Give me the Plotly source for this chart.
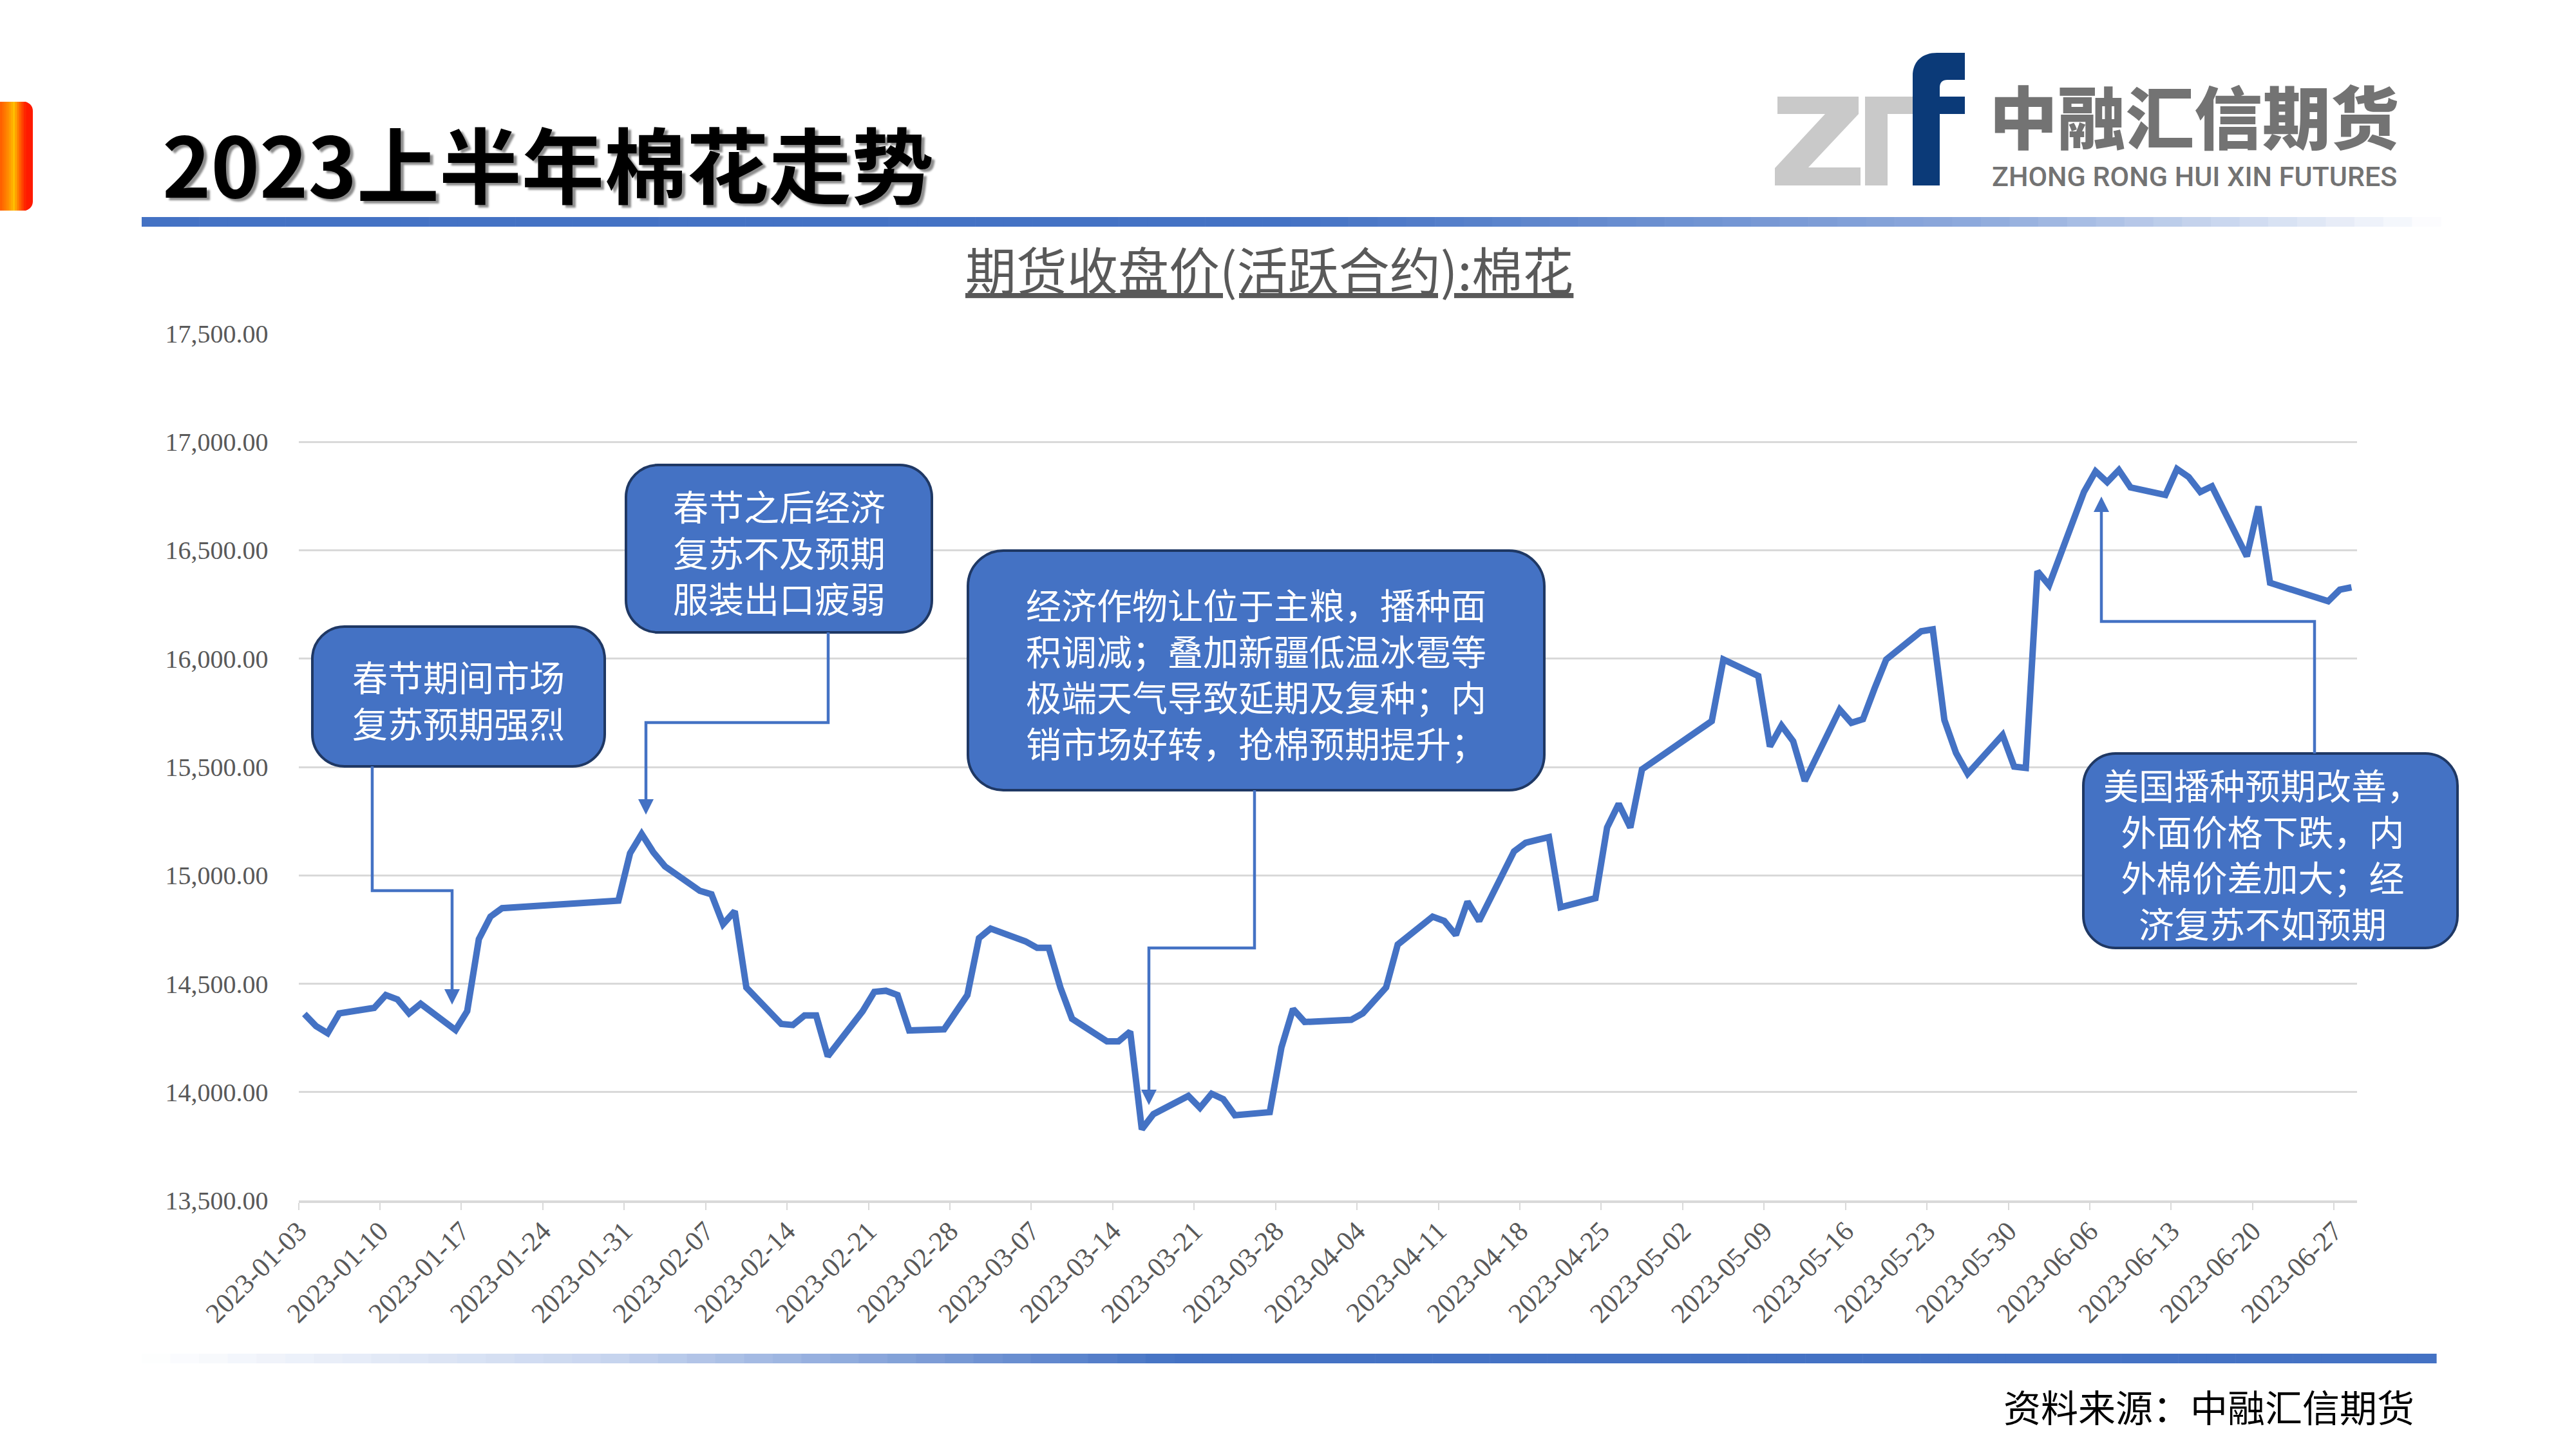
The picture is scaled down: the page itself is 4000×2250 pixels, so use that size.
import pandas as pd
import plotly.graph_objects as go

W, H = 4000, 2250

# Daily closing price of the most active cotton futures contract, H1 2023
trade_dates = [
    "2023-01-03", "2023-01-04", "2023-01-05", "2023-01-06", "2023-01-09", "2023-01-10",
    "2023-01-11", "2023-01-12", "2023-01-13", "2023-01-16", "2023-01-17", "2023-01-18",
    "2023-01-19", "2023-01-20", "2023-01-30", "2023-01-31", "2023-02-01", "2023-02-02",
    "2023-02-03", "2023-02-06", "2023-02-07", "2023-02-08", "2023-02-09", "2023-02-10",
    "2023-02-13", "2023-02-14", "2023-02-15", "2023-02-16", "2023-02-17", "2023-02-20",
    "2023-02-21", "2023-02-22", "2023-02-23", "2023-02-24", "2023-02-27", "2023-02-28",
    "2023-03-01", "2023-03-02", "2023-03-03", "2023-03-06", "2023-03-07", "2023-03-08",
    "2023-03-09", "2023-03-10", "2023-03-13", "2023-03-14", "2023-03-15", "2023-03-16",
    "2023-03-17", "2023-03-20", "2023-03-21", "2023-03-22", "2023-03-23", "2023-03-24",
    "2023-03-27", "2023-03-28", "2023-03-29", "2023-03-30", "2023-03-31", "2023-04-03",
    "2023-04-04", "2023-04-06", "2023-04-07", "2023-04-10", "2023-04-11", "2023-04-12",
    "2023-04-13", "2023-04-14", "2023-04-17", "2023-04-18", "2023-04-19", "2023-04-20",
    "2023-04-21", "2023-04-24", "2023-04-25", "2023-04-26", "2023-04-27", "2023-04-28",
    "2023-05-04", "2023-05-05", "2023-05-08", "2023-05-09", "2023-05-10", "2023-05-11",
    "2023-05-12", "2023-05-15", "2023-05-16", "2023-05-17", "2023-05-18", "2023-05-19",
    "2023-05-22", "2023-05-23", "2023-05-24", "2023-05-25", "2023-05-26", "2023-05-29",
    "2023-05-30", "2023-05-31", "2023-06-01", "2023-06-02", "2023-06-05", "2023-06-06",
    "2023-06-07", "2023-06-08", "2023-06-09", "2023-06-12", "2023-06-13", "2023-06-14",
    "2023-06-15", "2023-06-16", "2023-06-19", "2023-06-20", "2023-06-21", "2023-06-26",
    "2023-06-27", "2023-06-28",
]
close_prices = [
    14361, 14305, 14272, 14364, 14389, 14448,
    14428, 14364, 14408, 14287, 14374, 14706,
    14810, 14849, 14884, 15102, 15191, 15107,
    15042, 14929, 14913, 14775, 14835, 14483,
    14315, 14310, 14354, 14354, 14166, 14374,
    14463, 14468, 14448, 14285, 14290, 14369,
    14448, 14711, 14755, 14696, 14666, 14666,
    14483, 14339, 14235, 14235, 14280, 13829,
    13899, 13983, 13928, 13993, 13968, 13894,
    13908, 14206, 14384, 14324, 14326, 14334,
    14364, 14483, 14681, 14810, 14790, 14725,
    14879, 14790, 15111, 15151, 15164, 15177,
    14853, 14895, 15221, 15330, 15221, 15489,
    15712, 15996, 15920, 15595, 15691, 15619,
    15436, 15765, 15704, 15721, 15863, 15996,
    16126, 16135, 15717, 15565, 15469, 15648,
    15502, 15496, 16403, 16339, 16769, 16864,
    16814, 16870, 16790, 16755, 16875, 16838,
    16769, 16795, 16472, 16702, 16350, 16265,
    16318, 16329,
]

x_tick_labels = [
    "2023-01-03", "2023-01-10", "2023-01-17", "2023-01-24", "2023-01-31", "2023-02-07",
    "2023-02-14", "2023-02-21", "2023-02-28", "2023-03-07", "2023-03-14", "2023-03-21",
    "2023-03-28", "2023-04-04", "2023-04-11", "2023-04-18", "2023-04-25", "2023-05-02",
    "2023-05-09", "2023-05-16", "2023-05-23", "2023-05-30", "2023-06-06", "2023-06-13",
    "2023-06-20", "2023-06-27",
]
y_tick_values = [13500, 14000, 14500, 15000, 15500, 16000, 16500, 17000, 17500]

page_title = "2023上半年棉花走势"
chart_title = "期货收盘价(活跃合约):棉花"
source_note = "资料来源：中融汇信期货"
brand_cn = "中融汇信期货"
brand_en = "ZHONG RONG HUI XIN FUTURES"

callout_texts = [
    ["春节期间市场", "复苏预期强烈"],
    ["春节之后经济", "复苏不及预期", "服装出口疲弱"],
    ["经济作物让位于主粮，播种面", "积调减；叠加新疆低温冰雹等",
     "极端天气导致延期及复种；内", "销市场好转，抢棉预期提升；"],
    ["美国播种预期改善，", "外面价格下跌，内", "外棉价差加大；经", "济复苏不如预期"],
]

# ---------------------------------------------------------------- helpers
CJK = "Noto Sans CJK SC"
BLUE = "#4472C4"
GREY_TXT = "#595959"


def px(x):
    return x / W


def py(y):
    return 1 - y / H


def pt(x, y):
    return f"{px(x):.5f},{py(y):.5f}"


def hex2rgb(c):
    c = c.lstrip("#")
    return [int(c[i:i + 2], 16) for i in (0, 2, 4)]


def blend(stops, t):
    for (t0, c0), (t1, c1) in zip(stops, stops[1:]):
        if t0 <= t <= t1:
            f = 0 if t1 == t0 else (t - t0) / (t1 - t0)
            a, b = hex2rgb(c0), hex2rgb(c1)
            return "rgb(%d,%d,%d)" % tuple(round(a[i] + (b[i] - a[i]) * f) for i in range(3))
    return stops[-1][1]


def rrect_path(x0, y0, x1, y1, r):
    k = 0.5523 * r
    return (
        f"M{pt(x0 + r, y0)} L{pt(x1 - r, y0)} "
        f"C{pt(x1 - r + k, y0)} {pt(x1, y0 + r - k)} {pt(x1, y0 + r)} "
        f"L{pt(x1, y1 - r)} "
        f"C{pt(x1, y1 - r + k)} {pt(x1 - r + k, y1)} {pt(x1 - r, y1)} "
        f"L{pt(x0 + r, y1)} "
        f"C{pt(x0 + r - k, y1)} {pt(x0, y1 - r + k)} {pt(x0, y1 - r)} "
        f"L{pt(x0, y0 + r)} "
        f"C{pt(x0, y0 + r - k)} {pt(x0 + r - k, y0)} {pt(x0 + r, y0)} Z"
    )


def poly_path(points, close=False):
    s = "M" + " L".join(pt(x, y) for x, y in points)
    return s + (" Z" if close else "")


shapes = []
annotations = []


def gradient_bar(x0, x1, y0, y1, stops, n=80):
    step = (x1 - x0) / n
    for i in range(n):
        t = (i + 0.5) / n
        shapes.append(dict(type="rect", xref="paper", yref="paper",
                           x0=px(x0 + i * step), x1=px(x0 + (i + 1) * step + 0.6),
                           y0=py(y1), y1=py(y0), line=dict(width=0),
                           fillcolor=blend(stops, t), layer="below"))


# ---------------------------------------------------------------- figure
fig = go.Figure()

dates = pd.to_datetime(trade_dates)
fig.add_trace(go.Scatter(
    x=dates, y=close_prices, mode="lines",
    line=dict(color=BLUE, width=10),
    hoverinfo="skip", showlegend=False,
))

half_day = pd.Timedelta(hours=12)
x_range = [dates[0] - half_day, dates[-1] + half_day]
tick_pos = pd.to_datetime(x_tick_labels) - half_day

PLOT_L, PLOT_R, PLOT_T, PLOT_B = 463.6, 3660.4, 517.8, 1864.3

fig.update_layout(
    width=W, height=H,
    margin=dict(l=0, r=0, t=0, b=0, pad=0, autoexpand=False),
    paper_bgcolor="white", plot_bgcolor="white",
    showlegend=False,
    xaxis=dict(
        domain=[px(PLOT_L), px(PLOT_R)], automargin=False,
        type="date", range=x_range,
        tickmode="array", tickvals=tick_pos, ticktext=x_tick_labels,
        tickangle=-45, tickfont=dict(family="Liberation Serif", size=43, color=GREY_TXT),
        ticks="outside", ticklen=11, tickwidth=2, tickcolor="#D9D9D9",
        ticklabelstandoff=-10,
        showline=True, linecolor="#D9D9D9", linewidth=4,
        showgrid=False, zeroline=False, fixedrange=True,
    ),
    yaxis=dict(
        domain=[py(PLOT_B), py(PLOT_T)], automargin=False,
        range=[y_tick_values[0], y_tick_values[-1]],
        tickmode="array", tickvals=y_tick_values,
        ticktext=[f"{v:,.2f}" for v in y_tick_values],
        tickfont=dict(family="Liberation Serif", size=40, color=GREY_TXT),
        ticklabelstandoff=46,
        showgrid=True, gridcolor="#D9D9D9", gridwidth=3,
        showline=False, zeroline=False, ticks="", fixedrange=True,
    ),
)

# ---- header: left tab, title, logo, rule lines
tab_stops = [(0, "#FF5A00"), (0.3, "#FF8A00"), (0.55, "#FFC000"), (0.75, "#FF6A00"), (1, "#FF1A00")]
for i in range(12):
    t0, t1 = i / 12, (i + 1) / 12
    shapes.append(dict(type="rect", xref="paper", yref="paper",
                       x0=px(t0 * 40), x1=px(t1 * 40 + 0.6), y0=py(327), y1=py(158),
                       line=dict(width=0), fillcolor=blend(tab_stops, (t0 + t1) / 2)))
shapes.append(dict(type="path", xref="paper", yref="paper",
                   path=rrect_path(-20, 158, 51, 327, 14),
                   fillcolor="#FF1A00", line=dict(width=0), layer="below"))

annotations.append(dict(
    text=page_title, xref="paper", yref="paper", x=px(250), y=py(252),
    xanchor="left", yanchor="middle", showarrow=False,
    font=dict(family=CJK, size=128, color="black", weight=700,
              shadow="5px 4px 3px rgba(0,0,0,0.45)"),
))

gradient_bar(220, 3790, 337, 352,
             [(0, BLUE), (0.5, BLUE), (0.8, "#8FAADC"), (1, "#FFFFFF")])
gradient_bar(220, 3783, 2102, 2117,
             [(0, "#FFFFFF"), (0.2, "#C9D6EF"), (0.45, BLUE), (1, BLUE)])

# logo mark
LOGO_GREY = "#C9C9C9"
LOGO_NAVY = "#0B3A78"
shapes.append(dict(type="path", xref="paper", yref="paper", line=dict(width=0), fillcolor=LOGO_GREY,
                   path=poly_path([(2760, 150), (2886, 150), (2886, 177), (2808, 260), (2889, 260),
                                   (2889, 288), (2756, 288), (2756, 261), (2834, 177), (2760, 177)], True)))
shapes.append(dict(type="path", xref="paper", yref="paper", line=dict(width=0), fillcolor=LOGO_GREY,
                   path=poly_path([(2896, 150), (2970, 150), (2970, 177), (2931, 177),
                                   (2931, 288), (2896, 288)], True)))
shapes.append(dict(type="path", xref="paper", yref="paper", line=dict(width=0), fillcolor=LOGO_NAVY,
                   path=(f"M{pt(2970, 288)} L{pt(2970, 118)} C{pt(2970, 95)} {pt(2985, 82)} {pt(3008, 82)} "
                         f"L{pt(3051, 82)} L{pt(3051, 124)} L{pt(3024, 124)} C{pt(3016, 124)} {pt(3012, 128)} "
                         f"{pt(3012, 136)} L{pt(3012, 150)} L{pt(3051, 150)} L{pt(3051, 177)} "
                         f"L{pt(3012, 177)} L{pt(3012, 288)} Z")))
annotations.append(dict(
    text=brand_cn, xref="paper", yref="paper", x=px(3407), y=py(177),
    xanchor="center", yanchor="middle", showarrow=False,
    font=dict(family=CJK, size=106, color="#737373", weight=900),
))
annotations.append(dict(
    text=brand_en, xref="paper", yref="paper", x=px(3407), y=py(274),
    xanchor="center", yanchor="middle", showarrow=False,
    font=dict(family="Roboto", size=43, color="#737373", weight=500),
))

# chart title (underlined)
annotations.append(dict(
    text=chart_title, xref="paper", yref="paper", x=px(1971), y=py(416),
    xanchor="center", yanchor="middle", showarrow=False,
    font=dict(family=CJK, size=79, color=GREY_TXT, lineposition="under"),
))

# source note
annotations.append(dict(
    text=source_note, xref="paper", yref="paper", x=px(3430), y=py(2183),
    xanchor="center", yanchor="middle", showarrow=False,
    font=dict(family=CJK, size=58, color="black"),
))

# ---- callout boxes with elbow connectors
boxes = [
    dict(x0=485, y0=973, x1=939, y1=1190, r=50, dx=0,
         leader=[(578, 1190), (578, 1383), (702, 1383), (702, 1540)], tip=(702, 1560)),
    dict(x0=972, y0=722, x1=1447, y1=982, r=50, dx=0,
         leader=[(1286, 982), (1286, 1122), (1003, 1122), (1003, 1245)], tip=(1003, 1265)),
    dict(x0=1503, y0=855, x1=2398, y1=1227, r=55, dx=0,
         leader=[(1948, 1227), (1948, 1472), (1784, 1472), (1784, 1696)], tip=(1784, 1716)),
    dict(x0=3235, y0=1170, x1=3816, y1=1472, r=50, dx=-12,
         leader=[(3594, 1170), (3594, 965), (3263, 965), (3263, 791)], tip=(3263, 771)),
]
for box, lines in zip(boxes, callout_texts):
    shapes.append(dict(type="path", xref="paper", yref="paper",
                       path=rrect_path(box["x0"], box["y0"], box["x1"], box["y1"], box["r"]),
                       fillcolor=BLUE, line=dict(color="#1F3864", width=4)))
    shapes.append(dict(type="path", xref="paper", yref="paper",
                       path=poly_path(box["leader"]), line=dict(color=BLUE, width=4.5),
                       fillcolor="rgba(0,0,0,0)"))
    tx, ty = box["tip"]
    base = box["leader"][-1][1]
    d = 1 if ty > base else -1
    shapes.append(dict(type="path", xref="paper", yref="paper", line=dict(width=0), fillcolor=BLUE,
                       path=poly_path([(tx - 12, ty - d * 24), (tx + 12, ty - d * 24), (tx, ty)], True)))
    cx = (box["x0"] + box["x1"]) / 2 + box["dx"]
    cy = (box["y0"] + box["y1"]) / 2 + 3
    annotations.append(dict(
        text="<br>".join(lines), xref="paper", yref="paper",
        x=px(cx), y=py(cy), align="center",
        xanchor="center", yanchor="middle", showarrow=False,
        font=dict(family=CJK, size=55, color="white"),
    ))

fig.update_layout(shapes=shapes, annotations=annotations)
fig.write_html("out.html")
